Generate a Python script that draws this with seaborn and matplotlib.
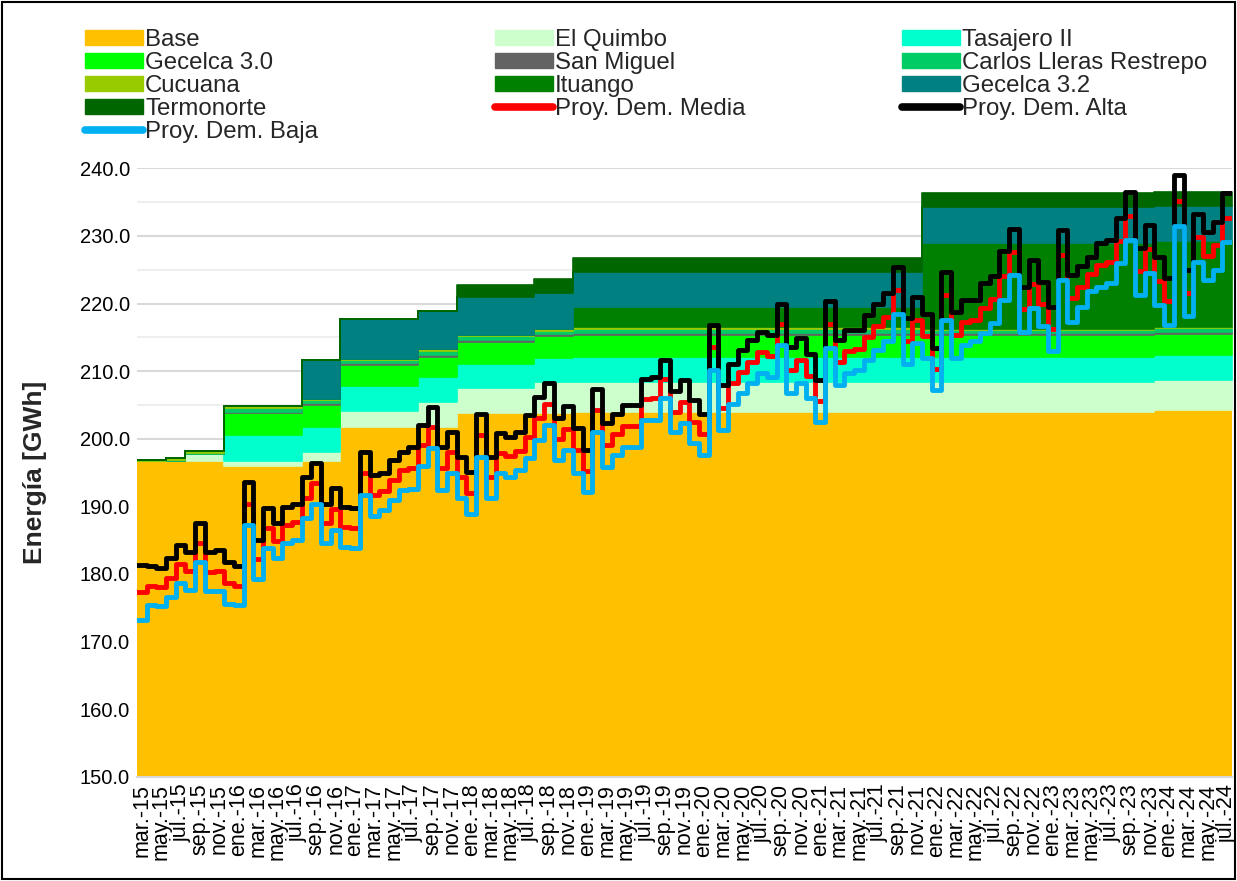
import numpy as np
import matplotlib
matplotlib.use("Agg")
import matplotlib.pyplot as plt
import seaborn as sns
from matplotlib.patches import Patch, Rectangle
from matplotlib.lines import Line2D

# ---------------- data ----------------
# month index 0 = mar-2015 ... 112 = jul-2024
meses = ['ene.', 'feb.', 'mar.', 'abr.', 'may.', 'jun.', 'jul.', 'ago.', 'sep.', 'oct.', 'nov.', 'dic.']
n_months = 113

# stacked capacity: value of each series from the month in seg_start onwards
seg_start  = [0, 3, 5, 9, 17, 21, 29, 33, 41, 45, 81, 105]
base       = [196.65, 196.65, 196.65, 195.9, 196.75, 201.8, 201.8, 203.75, 203.75, 203.9, 204.0, 204.25]
el_quimbo  = [0, 0, 1.05, 0.85, 1.35, 2.3, 3.7, 3.75, 4.65, 4.5, 4.4, 4.4]
tasajero   = [0, 0, 0, 3.85, 3.6, 3.7, 3.7, 3.6, 3.6, 3.7, 3.7, 3.7]
gecelca30  = [0, 0, 0, 3.15, 3.3, 3.1, 2.9, 3.25, 3.2, 3.2, 3.2, 3.2]
san_miguel = [0, 0, 0, 0.25, 0.3, 0.3, 0.3, 0.3, 0.3, 0.3, 0.3, 0.3]
carlos_ll  = [0, 0.25, 0.25, 0.6, 0.4, 0.4, 0.5, 0.5, 0.5, 0.6, 0.5, 0.5]
cucuana    = [0.25, 0.25, 0.25, 0.3, 0.2, 0.2, 0.3, 0.2, 0.2, 0.3, 0.2, 0.2]
ituango    = [0, 0, 0, 0, 0, 0, 0, 0, 0, 3.0, 12.7, 12.7]
gecelca32  = [0, 0, 0, 0, 5.7, 5.85, 5.7, 5.55, 5.3, 5.2, 5.3, 5.2]
termonorte = [0, 0, 0, 0, 0, 0, 0, 1.8, 2.1, 2.0, 2.0, 2.0]

dem_alta = [181.3, 181.1, 180.8, 182.3, 184.3, 183.3, 187.5, 183.3, 183.5, 181.8,
            181.1, 193.6, 185.0, 189.7, 187.5, 189.9, 190.4, 194.4, 196.4, 190.4,
            192.7, 189.9, 189.7, 198.1, 194.6, 195.0, 196.8, 198.1, 198.8, 202.0,
            204.7, 198.8, 201.0, 197.3, 195.1, 203.7, 197.3, 200.8, 200.3, 201.0,
            203.5, 206.2, 208.2, 203.0, 204.8, 201.6, 198.3, 207.4, 202.3, 203.7,
            205.0, 205.0, 208.9, 209.2, 211.6, 207.0, 208.7, 205.7, 203.7, 216.8,
            207.9, 211.1, 213.1, 214.6, 215.8, 215.3, 220.0, 213.6, 214.9, 212.6,
            208.7, 220.3, 214.6, 216.1, 216.1, 218.3, 220.0, 221.5, 225.4, 217.8,
            221.0, 218.5, 213.4, 224.7, 218.8, 220.5, 220.5, 223.0, 224.0, 227.7,
            231.0, 222.5, 226.4, 223.2, 219.5, 230.9, 224.2, 225.5, 226.9, 228.9,
            229.4, 232.6, 236.5, 228.2, 231.6, 226.9, 223.7, 239.0, 225.0, 233.3,
            230.6, 232.1, 236.3]

dem_media = [177.3, 178.2, 178.0, 179.4, 181.4, 180.4, 184.6, 180.3, 180.5, 178.7,
             178.2, 190.4, 182.2, 186.8, 184.9, 187.2, 187.7, 191.3, 193.4, 187.5,
             189.6, 187.0, 186.8, 194.9, 191.6, 192.2, 193.9, 195.3, 195.7, 199.0,
             201.7, 195.6, 198.0, 194.3, 192.0, 200.5, 194.3, 197.9, 197.4, 198.2,
             200.3, 203.0, 205.1, 199.9, 201.5, 198.3, 195.2, 204.2, 199.1, 200.7,
             201.9, 201.9, 205.8, 206.0, 208.8, 204.0, 205.5, 202.5, 200.7, 213.5,
             204.6, 208.2, 209.9, 211.4, 212.8, 212.3, 216.9, 210.2, 211.6, 209.3,
             205.6, 216.9, 211.3, 212.9, 213.2, 215.0, 216.6, 218.0, 222.0, 214.5,
             217.6, 215.2, 210.3, 221.2, 215.4, 217.2, 217.5, 219.3, 220.6, 224.1,
             227.6, 219.2, 222.9, 219.9, 216.2, 227.2, 220.8, 222.5, 224.4, 225.7,
             226.2, 229.3, 233.0, 224.8, 228.0, 223.4, 220.3, 235.2, 221.6, 229.8,
             227.1, 228.6, 232.7]

dem_baja = [173.2, 175.4, 175.2, 176.6, 178.6, 177.6, 181.8, 177.4, 177.4, 175.6,
            175.4, 187.2, 179.3, 183.8, 182.3, 184.5, 185.0, 188.2, 190.4, 184.5,
            186.5, 184.0, 183.9, 191.7, 188.5, 189.4, 190.9, 192.4, 192.6, 195.9,
            198.6, 192.4, 194.9, 191.2, 188.9, 197.3, 191.2, 194.9, 194.4, 195.4,
            197.1, 199.8, 202.0, 196.8, 198.3, 195.0, 192.1, 201.0, 195.8, 197.6,
            198.8, 198.8, 202.7, 202.7, 206.0, 201.0, 202.3, 199.3, 197.6, 210.1,
            201.3, 205.2, 206.7, 208.2, 209.7, 209.2, 213.8, 206.7, 208.2, 206.0,
            202.5, 213.4, 207.9, 209.7, 210.2, 211.6, 213.1, 214.4, 218.5, 211.1,
            214.1, 211.9, 207.2, 217.6, 211.9, 213.9, 214.4, 215.6, 217.1, 220.5,
            224.2, 215.8, 219.3, 216.6, 212.9, 223.5, 217.3, 219.5, 221.8, 222.5,
            223.0, 226.0, 229.4, 221.3, 224.5, 219.8, 216.8, 231.4, 218.1, 226.2,
            223.5, 225.0, 229.1]

area_names = ['Base', 'El Quimbo', 'Tasajero II', 'Gecelca 3.0', 'San Miguel',
              'Carlos Lleras Restrepo', 'Cucuana', 'Ituango', 'Gecelca 3.2', 'Termonorte']
area_vals = [base, el_quimbo, tasajero, gecelca30, san_miguel, carlos_ll,
             cucuana, ituango, gecelca32, termonorte]
area_colors = ['#FFC000', '#CCFFCC', '#00FFCC', '#00FF00', '#636363',
               '#00CC66', '#99CC00', '#008000', '#008080', '#006600']

line_names = ['Proy. Dem. Media', 'Proy. Dem. Alta', 'Proy. Dem. Baja']
line_vals = [dem_media, dem_alta, dem_baja]
line_colors = ['#FF0000', '#000000', '#00B0F0']

# ---------------- build monthly series ----------------
seg_len = np.diff(seg_start + [n_months])
x_edges = np.arange(n_months + 1)


def monthly(seg_values):
    v = np.repeat(np.asarray(seg_values, float), seg_len)
    return np.append(v, v[-1])


stack_y = [monthly(v) for v in area_vals]

# ---------------- figure ----------------
sns.set_theme(style="white")
plt.rcParams['font.family'] = ['Liberation Sans', 'DejaVu Sans']

W, H = 1237, 881
fig = plt.figure(figsize=(W / 100, H / 100), dpi=100)
ax = fig.add_axes([137 / W, 1 - 776.7 / H, (1232 - 137) / W, (776.7 - 168.3) / H])

# grid
ax.set_ylim(150, 240)
ax.set_yticks(np.arange(150, 241, 10))
ax.set_yticks(np.arange(155, 240, 10), minor=True)
ax.set_yticklabels([f"{v:.1f}" for v in np.arange(150, 241, 10)], fontsize=14.5)
ax.grid(axis='y', which='major', color='#D9D9D9', lw=1.5)
ax.grid(axis='y', which='minor', color='#EEEEEE', lw=1.5)
ax.grid(axis='x', visible=False)
ax.set_axisbelow(True)

polys = ax.stackplot(x_edges, *stack_y, colors=area_colors, step='post', zorder=2)
for p, c in zip(polys, area_colors):
    p.set_edgecolor(c)
    p.set_linewidth(1.2)

for vals, c, nm in zip(line_vals, line_colors, line_names):
    yv = np.append(np.asarray(vals, float), vals[-1])
    sns.lineplot(x=x_edges, y=yv, ax=ax, color=c, lw=3.5, estimator=None,
                 drawstyle='steps-post', solid_joinstyle='round',
                 solid_capstyle='round', zorder=3, legend=False)

ax.set_xlim(0, n_months)
tick_pos = np.arange(0, n_months, 2) + 0.5
tick_lab = []
for i in range(0, n_months, 2):
    k = 2 + i
    tick_lab.append(f"{meses[k % 12]}-{15 + k // 12}")
ax.set_xticks(tick_pos)
ax.set_xticklabels(tick_lab, rotation=90, fontsize=15.5)
ax.set_xticks(np.arange(0, n_months + 1, 2), minor=True)
ax.tick_params(axis='x', which='major', length=0, pad=5, colors='black')
ax.tick_params(axis='x', which='minor', length=6, width=1.2, color='#D9D9D9', direction='out')
ax.tick_params(axis='y', which='both', length=0, pad=5, colors='black')
ax.set_xlabel('')
ax.set_ylabel('')
for s in ['left', 'top', 'right']:
    ax.spines[s].set_visible(False)
ax.spines['bottom'].set_color('#D9D9D9')
ax.spines['bottom'].set_linewidth(1.5)
ax.spines['bottom'].set_zorder(5)

fig.text(35 / W, 1 - 472.5 / H, 'Energía [GWh]', rotation=90, ha='center', va='center',
         fontsize=19, fontweight='bold')

# legend (three columns, row-major order as in the original)
handles = {}
for nm, c in zip(area_names, area_colors):
    handles[nm] = Patch(facecolor=c, edgecolor=c)
for nm, c in zip(line_names, line_colors):
    handles[nm] = Line2D([0], [0], color=c, lw=5.5, solid_capstyle='round')

cols = [
    (85, ['Base', 'Gecelca 3.0', 'Cucuana', 'Termonorte', 'Proy. Dem. Baja']),
    (495, ['El Quimbo', 'San Miguel', 'Ituango', 'Proy. Dem. Media']),
    (902, ['Tasajero II', 'Carlos Lleras Restrepo', 'Gecelca 3.2', 'Proy. Dem. Alta']),
]
for xpx, names in cols:
    fig.legend([handles[n] for n in names], names, loc='upper left',
               bbox_to_anchor=(xpx / W, 1 - 29 / H), frameon=False, fontsize=17.3,
               borderpad=0, borderaxespad=0, handlelength=2.42, handleheight=0.6,
               handletextpad=0.08, labelspacing=0.04)

fig.patches.append(Rectangle((0.0015, 0.002), 0.997, 0.996, transform=fig.transFigure,
                             fill=False, edgecolor='black', lw=1.5))

fig.savefig('out.png', dpi=100)
